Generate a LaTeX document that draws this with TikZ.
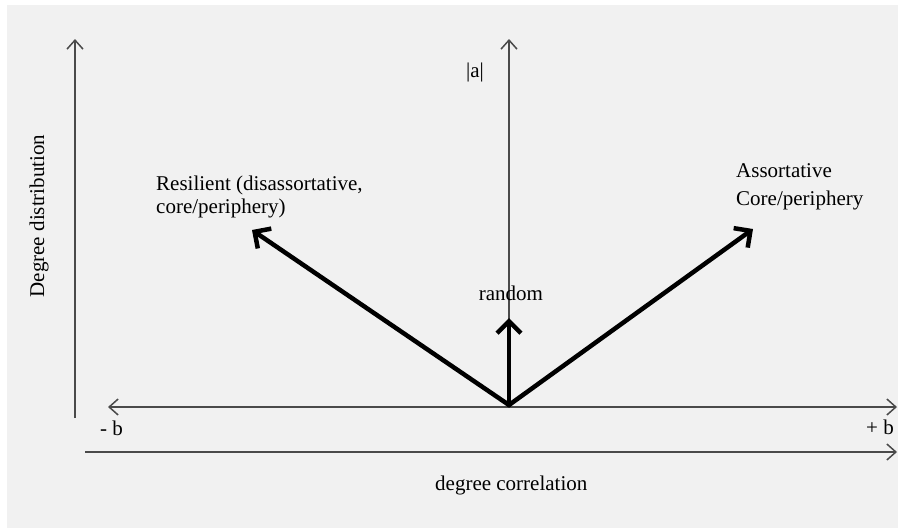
\documentclass[tikz,border=0pt]{standalone}
\usepackage{fontspec}
\setmainfont{Liberation Serif}
\usetikzlibrary{arrows.meta}
\definecolor{bggray}{HTML}{F1F1F1}
\definecolor{axisgray}{HTML}{4A4A4A}
\definecolor{txt}{HTML}{000000}
\begin{document}
\begin{tikzpicture}[x=1pt,y=-1pt,
  axis/.style={draw=axisgray, line width=1.5pt},
  thinhead/.style={-{Straight Barb[length=9pt,width=16pt,line width=1.5pt]}},
  thinboth/.style={{Straight Barb[length=9pt,width=16pt,line width=1.5pt]}-{Straight Barb[length=9pt,width=16pt,line width=1.5pt]}},
  bigarrow/.style={draw=black, line width=4.5pt, line join=miter, -{Straight Barb[length=12pt,width=24pt,line width=4.5pt]}},
  lbl/.style={font=\fontsize{21}{25}\selectfont, text=txt, inner sep=0pt}]
\fill[white] (0,0) rectangle (898,528);
\fill[bggray] (7,5) rectangle (898,528);
\useasboundingbox (0,0) rectangle (898,528);
% axes
\coordinate (ltop) at (75,39);
\coordinate (lbot) at (75,418);
\coordinate (o) at (509,405);
\coordinate (obase) at (509,407);
\coordinate (ctop) at (509,39);
\coordinate (hl) at (108,407);
\coordinate (hr) at (897,407);
\coordinate (bl) at (85,452);
\coordinate (br) at (897,452);
\draw[axis, thinhead] (lbot) -- (ltop);
\draw[axis, thinhead] (obase) -- (ctop);
\draw[axis, thinboth] (hl) -- (hr);
\draw[axis, thinhead] (bl) -- (br);
% thick arrows
\coordinate (ltip) at (252,230);
\coordinate (rtip) at (753,229);
\coordinate (utip) at (509,318);
\draw[bigarrow, {Straight Barb[length=12pt,width=24pt,line width=4.5pt]}-{Straight Barb[length=12pt,width=24pt,line width=4.5pt]}] (ltip) -- (o) -- (rtip);
\draw[bigarrow] (obase) -- (utip);
% labels
\node[lbl, anchor=base west] (res1) at (156,190) {Resilient (disassortative,};
\node[lbl, anchor=base west] (res2) at (156,213) {core/periphery)};
\node[lbl, anchor=base west] (ass1) at (736,177) {Assortative};
\node[lbl, anchor=base west] (ass2) at (736,205) {Core/periphery};
\node[lbl, anchor=base] (rand) at (511,300) {random};
\node[lbl] (absa) at (475,72) {|a|};
\node[lbl, anchor=base west] (mb) at (100,435) {- b};
\node[lbl, anchor=base east] (pb) at (894,434) {+ b};
\node[lbl, anchor=base west] (dc) at (435,490) {degree correlation};
\node[lbl, rotate=90] (dd) at (39,216) {Degree distribution};
\end{tikzpicture}
\end{document}
